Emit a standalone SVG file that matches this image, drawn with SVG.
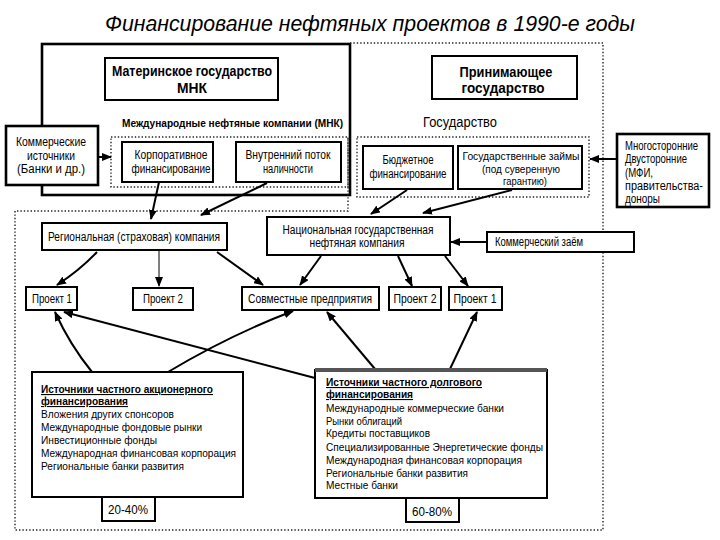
<svg xmlns="http://www.w3.org/2000/svg" width="720" height="540" viewBox="0 0 720 540">
<style>
.box{fill:#fff;stroke:#000;stroke-width:2}
.tb{fill:#fff;stroke:#000;stroke-width:2.6}
.dot{fill:none;stroke:#222;stroke-width:1.4;stroke-dasharray:1.4 2}
.t{font-family:"Liberation Sans",Arial,sans-serif;font-size:12px;fill:#000}
.l{font-size:11px}
.c{text-anchor:middle}
.b{font-weight:bold}
.u{text-decoration:underline}
.arr{stroke:#000;stroke-width:2;fill:none;marker-end:url(#ah)}
.thin{stroke:#000;stroke-width:1;fill:none;marker-end:url(#ah)}
</style>
<defs>
<marker id="ah" viewBox="0 0 10 10" refX="9" refY="5" markerWidth="10" markerHeight="8" markerUnits="userSpaceOnUse" orient="auto" preserveAspectRatio="none"><path d="M0,0 L10,5 L0,10 z" fill="#000"/></marker>
</defs>
<rect width="720" height="540" fill="#fff"/>
<text class="t c" x="370" y="31" style="font-size:22px;font-style:italic" textLength="530" lengthAdjust="spacingAndGlyphs">Финансирование нефтяных проектов в 1990-е годы</text>

<g id="regions">
<rect class="tb" x="42" y="44" width="308" height="151" style="fill:none"/>
<path class="dot" d="M350,43 H603 V530 H15 V211 H348 V137"/>
<rect class="dot" x="111" y="137" width="237" height="50"/>
<rect class="dot" x="357" y="137" width="232" height="60"/>
</g>

<g id="connectors">
<line class="arr" x1="98" y1="157" x2="111" y2="157"/>
<line class="arr" x1="617" y1="159" x2="590" y2="159"/>
<line class="arr" x1="159" y1="182" x2="151" y2="219"/>
<line class="arr" x1="267" y1="183" x2="201" y2="215"/>
<line class="arr" x1="407" y1="190" x2="371" y2="214"/>
<line class="arr" x1="512" y1="190" x2="423" y2="213"/>
<line class="arr" x1="487" y1="242" x2="451" y2="242"/>
<path class="arr" d="M97,252 Q80,270 57,285"/>
<line class="thin" x1="159" y1="251" x2="159" y2="286"/>
<line class="arr" x1="217" y1="252" x2="263" y2="285"/>
<line class="arr" x1="321" y1="256" x2="300" y2="285"/>
<line class="arr" x1="398" y1="256" x2="412" y2="286"/>
<line class="arr" x1="445" y1="256" x2="468" y2="286"/>
<path class="arr" d="M92,372 Q70,345 55,312"/>
<path class="arr" d="M168,372 Q230,335 293,311"/>
<line class="arr" x1="315" y1="378" x2="64" y2="312"/>
<line class="arr" x1="375" y1="369" x2="327" y2="312"/>
<line class="arr" x1="450" y1="369" x2="477" y2="312"/>
</g>

<g id="mother-state">
<rect class="box" x="105" y="58" width="173" height="42"/>
<text class="t c b" x="192" y="76" style="font-size:14px" textLength="160" lengthAdjust="spacingAndGlyphs">Материнское государство</text>
<text class="t c b" x="192" y="93" style="font-size:14px" textLength="30" lengthAdjust="spacingAndGlyphs">МНК</text>
</g>

<g id="mnk-label">
<text class="t b" x="122" y="127" style="font-size:10.5px" textLength="221" lengthAdjust="spacingAndGlyphs">Международные нефтяные компании (МНК)</text>
</g>

<g id="commercial-sources">
<rect class="tb" x="6" y="126" width="92" height="59"/>
<text class="t c" x="51" y="146" textLength="70" lengthAdjust="spacingAndGlyphs">Коммерческие</text>
<text class="t c" x="51" y="160" textLength="48" lengthAdjust="spacingAndGlyphs">источники</text>
<text class="t c" x="51" y="173" textLength="68" lengthAdjust="spacingAndGlyphs">(Банки и др.)</text>
</g>

<g id="corporate">
<rect class="box" x="122" y="142" width="91" height="40"/>
<text class="t c" x="171" y="159" textLength="73" lengthAdjust="spacingAndGlyphs">Корпоративное</text>
<text class="t c" x="171" y="173" textLength="79" lengthAdjust="spacingAndGlyphs">финансирование</text>
</g>

<g id="cashflow">
<rect class="box" x="236" y="142" width="105" height="40"/>
<text class="t c" x="288" y="159" textLength="85" lengthAdjust="spacingAndGlyphs">Внутренний поток</text>
<text class="t c" x="288" y="173" textLength="50" lengthAdjust="spacingAndGlyphs">наличности</text>
</g>

<g id="host-state">
<rect class="box" x="432" y="56" width="145" height="43"/>
<text class="t c b" x="506" y="77" style="font-size:14px" textLength="93" lengthAdjust="spacingAndGlyphs">Принимающее</text>
<text class="t c b" x="503" y="93" style="font-size:14px" textLength="83" lengthAdjust="spacingAndGlyphs">государство</text>
</g>

<g id="state-label">
<text class="t" x="423" y="127" style="font-size:14px" textLength="74" lengthAdjust="spacingAndGlyphs">Государство</text>
</g>

<g id="budget">
<rect class="box" x="363" y="146" width="90" height="43"/>
<text class="t c" x="408" y="164" textLength="51" lengthAdjust="spacingAndGlyphs">Бюджетное</text>
<text class="t c" x="408" y="178" textLength="77" lengthAdjust="spacingAndGlyphs">финансирование</text>
</g>

<g id="state-loans">
<rect class="box" x="458" y="146" width="124" height="43"/>
<text class="t l c" x="521" y="160" textLength="117" lengthAdjust="spacingAndGlyphs">Государственные займы</text>
<text class="t l c" x="521" y="173" textLength="78" lengthAdjust="spacingAndGlyphs">(под суверенную</text>
<text class="t l c" x="525" y="185" textLength="44" lengthAdjust="spacingAndGlyphs">гарантию)</text>
</g>

<g id="multilateral">
<rect class="tb" x="617" y="134" width="92" height="73"/>
<text class="t" x="625" y="150" textLength="73" lengthAdjust="spacingAndGlyphs">Многосторонние</text>
<text class="t" x="625" y="163" textLength="62" lengthAdjust="spacingAndGlyphs">Двусторонние</text>
<text class="t" x="625" y="177" textLength="28" lengthAdjust="spacingAndGlyphs">(МФИ,</text>
<text class="t" x="625" y="190" textLength="78" lengthAdjust="spacingAndGlyphs">правительства-</text>
<text class="t" x="625" y="203" textLength="35" lengthAdjust="spacingAndGlyphs">доноры</text>
</g>

<g id="regional-company">
<rect class="box" x="42" y="223" width="185" height="27"/>
<text class="t c" x="134" y="241" textLength="172" lengthAdjust="spacingAndGlyphs">Региональная (страховая) компания</text>
</g>

<g id="national-company">
<rect class="box" x="267" y="217" width="183" height="38"/>
<text class="t c" x="358" y="234" textLength="151" lengthAdjust="spacingAndGlyphs">Национальная государственная</text>
<text class="t c" x="357" y="247" textLength="95" lengthAdjust="spacingAndGlyphs">нефтяная компания</text>
</g>

<g id="commercial-loan">
<rect class="box" x="487" y="232" width="147" height="20"/>
<text class="t" x="495" y="246" textLength="88" lengthAdjust="spacingAndGlyphs">Коммерческий заём</text>
</g>

<g id="project1-left">
<rect class="box" x="26" y="287" width="51" height="23"/>
<text class="t c" x="52" y="303" textLength="40" lengthAdjust="spacingAndGlyphs">Проект 1</text>
</g>
<g id="project2-left">
<rect class="box" x="133" y="288" width="60" height="22"/>
<text class="t c" x="163" y="303" textLength="40" lengthAdjust="spacingAndGlyphs">Проект 2</text>
</g>
<g id="joint-ventures">
<rect class="box" x="242" y="287" width="137" height="23"/>
<text class="t c" x="310" y="303" textLength="124" lengthAdjust="spacingAndGlyphs">Совместные предприятия</text>
</g>
<g id="project2-right">
<rect class="box" x="389" y="287" width="52" height="23"/>
<text class="t c" x="415" y="303" textLength="43" lengthAdjust="spacingAndGlyphs">Проект 2</text>
</g>
<g id="project1-right">
<rect class="box" x="449" y="287" width="53" height="23"/>
<text class="t c" x="475" y="303" textLength="43" lengthAdjust="spacingAndGlyphs">Проект 1</text>
</g>

<g id="equity-sources">
<rect class="box" x="32" y="372" width="211" height="125"/>
<text class="t l b u" x="41" y="393" textLength="172" lengthAdjust="spacingAndGlyphs">Источники частного акционерного</text>
<text class="t l b u" x="41" y="405" textLength="87" lengthAdjust="spacingAndGlyphs">финансирования</text>
<text class="t l" x="41" y="418" textLength="133" lengthAdjust="spacingAndGlyphs">Вложения других спонсоров</text>
<text class="t l" x="41" y="431" textLength="161" lengthAdjust="spacingAndGlyphs">Международные фондовые рынки</text>
<text class="t l" x="41" y="444" textLength="116" lengthAdjust="spacingAndGlyphs">Инвестиционные фонды</text>
<text class="t l" x="41" y="457" textLength="195" lengthAdjust="spacingAndGlyphs">Международная финансовая корпорация</text>
<text class="t l" x="41" y="470" textLength="143" lengthAdjust="spacingAndGlyphs">Региональные банки развития</text>
</g>
<g id="equity-share">
<rect class="box" x="102" y="497" width="53" height="24"/>
<text class="t c" x="128" y="514" textLength="40" lengthAdjust="spacingAndGlyphs">20-40%</text>
</g>

<g id="debt-sources">
<rect class="box" x="315" y="370" width="232" height="128"/>
<line x1="315" y1="370" x2="547" y2="370" stroke="#555" stroke-width="4"/>
<text class="t l b u" x="326" y="386" textLength="156" lengthAdjust="spacingAndGlyphs">Источники частного долгового</text>
<text class="t l b u" x="326" y="398" textLength="87" lengthAdjust="spacingAndGlyphs">финансирования</text>
<text class="t l" x="326" y="412" textLength="178" lengthAdjust="spacingAndGlyphs">Международные коммерческие банки</text>
<text class="t l" x="326" y="425" textLength="76" lengthAdjust="spacingAndGlyphs">Рынки облигаций</text>
<text class="t l" x="326" y="437" textLength="104" lengthAdjust="spacingAndGlyphs">Кредиты поставщиков</text>
<text class="t l" x="326" y="451" textLength="217" lengthAdjust="spacingAndGlyphs">Специализированные Энергетические фонды</text>
<text class="t l" x="326" y="464" textLength="196" lengthAdjust="spacingAndGlyphs">Международная финансовая корпорация</text>
<text class="t l" x="326" y="477" textLength="142" lengthAdjust="spacingAndGlyphs">Региональные банки развития</text>
<text class="t l" x="326" y="489" textLength="72" lengthAdjust="spacingAndGlyphs">Местные банки</text>
</g>
<g id="debt-share">
<rect class="box" x="406" y="498" width="53" height="24"/>
<text class="t c" x="432" y="516" textLength="40" lengthAdjust="spacingAndGlyphs">60-80%</text>
</g>
</svg>
